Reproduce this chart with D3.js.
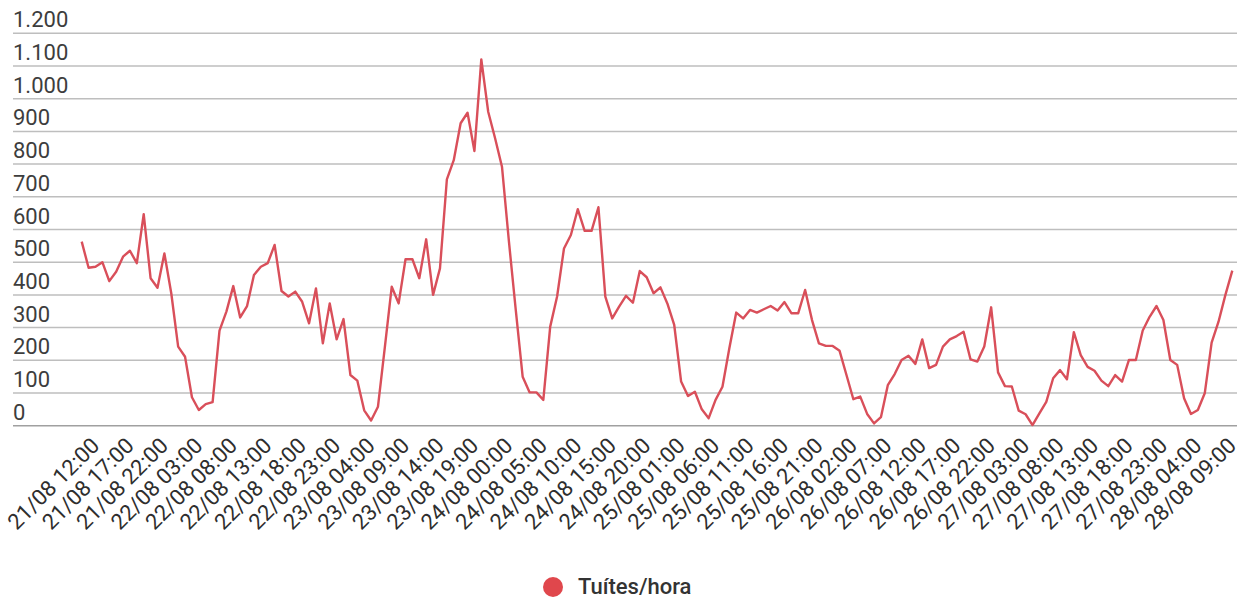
<!DOCTYPE html>
<meta charset="utf-8">
<title>Tuítes/hora</title>
<style>
    body {
        margin: 0;
        background: #fff;
        font-family: Roboto, "Noto Sans", sans-serif;
    }
</style>

<body>
    <div id="chart"></div>

    <script src="https://cdn.jsdelivr.net/npm/d3@7/dist/d3.min.js"></script>
    <script>
        // hourly values, first point is 21/08 12:00
        var tweets = [
            563, 483, 486, 500, 442, 471, 517, 535, 497, 647,
            451, 422, 527, 405, 242, 211, 87, 48, 66, 72,
            291, 349, 427, 331, 366, 461, 486, 497, 553, 412,
            395, 410, 379, 313, 420, 252, 374, 264, 326, 155,
            138, 47, 16, 58, 240, 425, 374, 509, 509, 451,
            570, 400, 481, 753, 812, 925, 957, 840, 1120, 960,
            879, 792, 565, 354, 150, 102, 102, 79, 303, 395,
            542, 583, 662, 596, 596, 668, 395, 328, 364, 397,
            376, 473, 454, 405, 423, 374, 308, 135, 91, 104,
            50, 23, 79, 119, 237, 346, 328, 354, 346, 356,
            366, 352, 378, 344, 344, 415, 323, 252, 244, 244,
            229, 155, 81, 89, 36, 7, 26, 124, 158, 201,
            214, 189, 264, 176, 186, 242, 264, 274, 287, 203,
            196, 242, 362, 163, 121, 120, 46, 35, 2, 38,
            73, 145, 170, 142, 286, 216, 180, 168, 138, 121,
            155, 135, 201, 201, 291, 333, 366, 323, 201, 186,
            84, 36, 48, 99, 254, 318, 400, 474
        ];

        // a label every 5 hours
        var tickLabels = [
            "21/08 12:00", "21/08 17:00", "21/08 22:00", "22/08 03:00", "22/08 08:00",
            "22/08 13:00", "22/08 18:00", "22/08 23:00", "23/08 04:00", "23/08 09:00",
            "23/08 14:00", "23/08 19:00", "24/08 00:00", "24/08 05:00", "24/08 10:00",
            "24/08 15:00", "24/08 20:00", "25/08 01:00", "25/08 06:00", "25/08 11:00",
            "25/08 16:00", "25/08 21:00", "26/08 02:00", "26/08 07:00", "26/08 12:00",
            "26/08 17:00", "26/08 22:00", "27/08 03:00", "27/08 08:00", "27/08 13:00",
            "27/08 18:00", "27/08 23:00", "28/08 04:00", "28/08 09:00"
        ];
        var tickStep = 5;

        var yTicks = [0, 100, 200, 300, 400, 500, 600, 700, 800, 900, 1000, 1100, 1200];

        var seriesName = "Tuítes/hora";

        var width = 1247,
            height = 598;

        var lineColor = "#d94f5a";

        var svg = d3.select("#chart")
            .append("svg")
            .attr("width", width)
            .attr("height", height)
            .style("display", "block");

        var x = d3.scaleLinear()
            .domain([0, tweets.length - 1])
            .range([81.7, 1232.3]);

        var y = d3.scaleLinear()
            .domain([0, 1200])
            .range([425.7, 33.3]);

        // portuguese style thousands separator
        var fmt = d3.formatLocale({
            decimal: ",",
            thousands: ".",
            grouping: [3],
            currency: ["", ""]
        }).format(",");

        // gridlines
        svg.append("g")
            .selectAll("line")
            .data(yTicks)
            .enter()
            .append("line")
            .attr("x1", 13)
            .attr("x2", 1237)
            .attr("y1", function(d) { return y(d); })
            .attr("y2", function(d) { return y(d); })
            .attr("stroke", function(d) { return d == 0 ? "#a0a0a0" : "#bebebe"; })
            .attr("stroke-width", 1.5);

        // y labels sit above their gridline
        svg.append("g")
            .selectAll("text")
            .data(yTicks)
            .enter()
            .append("text")
            .attr("x", 13)
            .attr("y", function(d) { return y(d) - 6; })
            .attr("font-size", 22)
            .attr("fill", "#3d3d3d")
            .text(function(d) { return fmt(d); });

        // slanted x labels
        svg.append("g")
            .selectAll("text")
            .data(tickLabels)
            .enter()
            .append("text")
            .attr("text-anchor", "end")
            .attr("font-size", 22)
            .attr("fill", "#2e2e2e")
            .attr("transform", function(d, i) {
                return "translate(" + (x(i * tickStep) + 19) + ",447) rotate(-45)";
            })
            .text(function(d) { return d; });

        // the line
        var line = d3.line()
            .x(function(d, i) { return x(i); })
            .y(function(d) { return y(d); });

        svg.append("path")
            .datum(tweets)
            .attr("fill", "none")
            .attr("stroke", lineColor)
            .attr("stroke-width", 2.4)
            .attr("stroke-linejoin", "round")
            .attr("d", line);

        // legend
        var legend = svg.append("g");
        legend.append("circle")
            .attr("cx", 553)
            .attr("cy", 587)
            .attr("r", 10)
            .attr("fill", "#e0474c");
        legend.append("text")
            .attr("x", 578)
            .attr("y", 594)
            .attr("font-size", 22)
            .attr("font-weight", 500)
            .attr("fill", "#333")
            .text(seriesName);
    </script>
</body>
